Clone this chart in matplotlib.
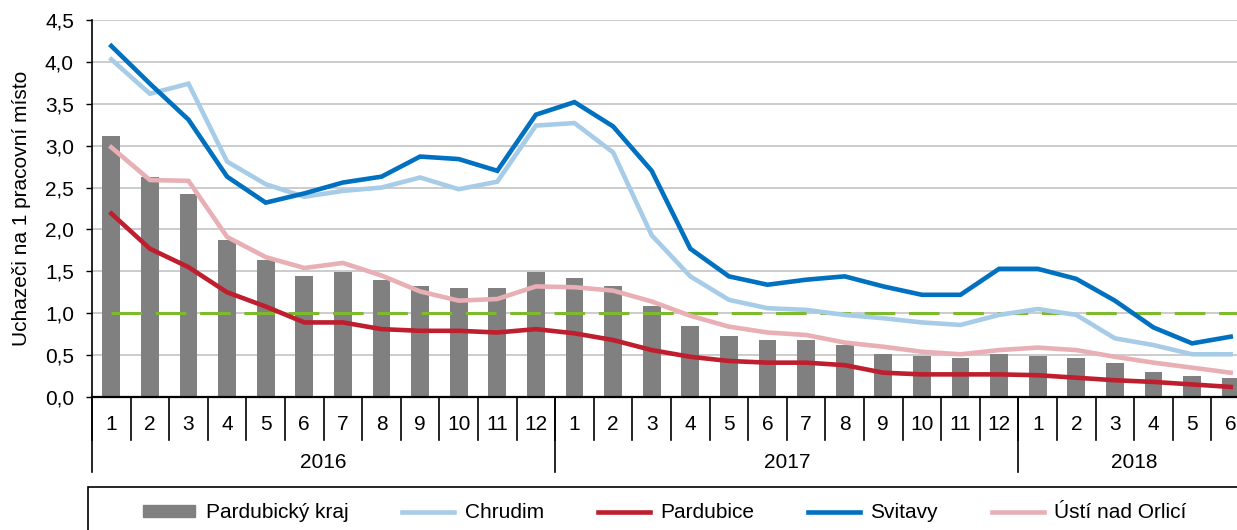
import numpy as np
import matplotlib.pyplot as plt
from matplotlib.patches import Rectangle
from matplotlib.lines import Line2D
from matplotlib.ticker import FuncFormatter

plt.rcParams['font.family'] = ['Liberation Sans', 'DejaVu Sans']

# ===== DATA =====
months = [str(m) for m in range(1, 13)] * 2 + [str(m) for m in range(1, 7)]
years = ['2016', '2017', '2018']
year_len = [12, 12, 6]

kraj = [3.11, 2.63, 2.42, 1.87, 1.63, 1.44, 1.49, 1.40, 1.32, 1.30, 1.30, 1.49,
        1.42, 1.32, 1.09, 0.85, 0.73, 0.68, 0.68, 0.62, 0.51, 0.49, 0.47, 0.51,
        0.49, 0.47, 0.40, 0.30, 0.25, 0.23]
chrudim = [4.03, 3.62, 3.74, 2.81, 2.54, 2.39, 2.46, 2.50, 2.62, 2.48, 2.57, 3.24,
           3.27, 2.92, 1.93, 1.44, 1.16, 1.06, 1.04, 0.98, 0.94, 0.89, 0.86, 0.98,
           1.05, 0.98, 0.70, 0.62, 0.51, 0.51]
pardubice = [2.19, 1.77, 1.55, 1.25, 1.08, 0.89, 0.89, 0.81, 0.79, 0.79, 0.77, 0.81,
             0.76, 0.68, 0.56, 0.48, 0.43, 0.41, 0.41, 0.38, 0.29, 0.27, 0.27, 0.27,
             0.26, 0.23, 0.20, 0.18, 0.15, 0.12]
svitavy = [4.19, 3.74, 3.31, 2.63, 2.32, 2.43, 2.56, 2.63, 2.87, 2.84, 2.70, 3.37,
           3.52, 3.23, 2.70, 1.77, 1.44, 1.34, 1.40, 1.44, 1.32, 1.22, 1.22, 1.53,
           1.53, 1.41, 1.15, 0.83, 0.64, 0.72]
usti = [2.98, 2.59, 2.58, 1.91, 1.67, 1.54, 1.60, 1.45, 1.26, 1.15, 1.17, 1.32,
        1.31, 1.27, 1.14, 0.97, 0.84, 0.77, 0.74, 0.65, 0.60, 0.54, 0.51, 0.56,
        0.59, 0.56, 0.48, 0.41, 0.35, 0.29]
limit = 1.0

series = [
    ('Chrudim', chrudim, '#A7CCE8'),
    ('Pardubice', pardubice, '#BE1E2D'),
    ('Svitavy', svitavy, '#0070C0'),
    ('Ústí nad Orlicí', usti, '#E8AFB4'),
]

FS = 15

# ===== GRAF =====
fig = plt.figure(figsize=(12.37, 5.30), dpi=100)
ax = fig.add_axes([92 / 1237, 133 / 530, 1158 / 1237, 377 / 530])

x = np.arange(len(months))
ax.bar(x, kraj, width=0.46, color='#808080', zorder=2)
ax.plot([x[0], x[-1] + 0.5], [limit, limit], color='#7DBA2C', lw=2.2,
        dashes=(10, 4.5), zorder=3)
for name, vals, col in series:
    ax.plot(x, vals, color=col, lw=3.3, solid_joinstyle='miter', zorder=4)

ax.set_xlim(-0.5, len(months) - 0.5)
ax.set_ylim(0, 4.5)
ax.set_yticks(np.arange(0, 4.51, 0.5))
ax.yaxis.set_major_formatter(FuncFormatter(lambda v, p: f'{v:.1f}'.replace('.', ',')))
ax.grid(axis='y', color='#BFBFBF', lw=1.1, zorder=0)
ax.set_axisbelow(True)
for s in ['top', 'right']:
    ax.spines[s].set_visible(False)
ax.spines['left'].set_linewidth(1.2)
ax.spines['bottom'].set_linewidth(1.6)
ax.tick_params(axis='y', labelsize=FS, length=4, width=1, pad=9)
ax.set_xticks([])
ax.set_ylabel('Uchazeči na 1 pracovní místo', fontsize=FS, labelpad=10)

# popisky os X (měsíce a roky)
tr = ax.get_xaxis_transform()
for i in range(len(months) + 1):
    ax.plot([i - 0.5, i - 0.5], [0, -0.114], color='black', lw=1.2,
            transform=tr, clip_on=False)
for i, m in enumerate(months):
    ax.text(i, -0.072, m, transform=tr, ha='center', va='center', fontsize=FS)
start = 0
for y, n in zip(years, year_len):
    ax.plot([start - 0.5, start - 0.5], [0, -0.199], color='black', lw=1.2,
            transform=tr, clip_on=False)
    ax.text(start + n / 2 - 0.5, -0.173, y, transform=tr, ha='center',
            va='center', fontsize=FS)
    start += n

# ===== LEGENDA =====
fig.patches.append(Rectangle((88 / 1237, -0.1), 1.0, 0.1 + 43 / 530,
                             transform=fig.transFigure, fill=False,
                             edgecolor='black', lw=1.2))
handles = [Rectangle((0, 0), 1, 1, color='#808080')]
labels = ['Pardubický kraj']
for name, vals, col in series:
    handles.append(Line2D([0], [0], color=col, lw=3.3))
    labels.append(name)
fig.legend(handles, labels, loc='center', bbox_to_anchor=(665 / 1237, 17 / 530),
           ncol=5, frameon=False, fontsize=FS, handlelength=2.5,
           handleheight=0.5, handletextpad=0.5, columnspacing=2.58)

plt.savefig('out.png', dpi=100)
